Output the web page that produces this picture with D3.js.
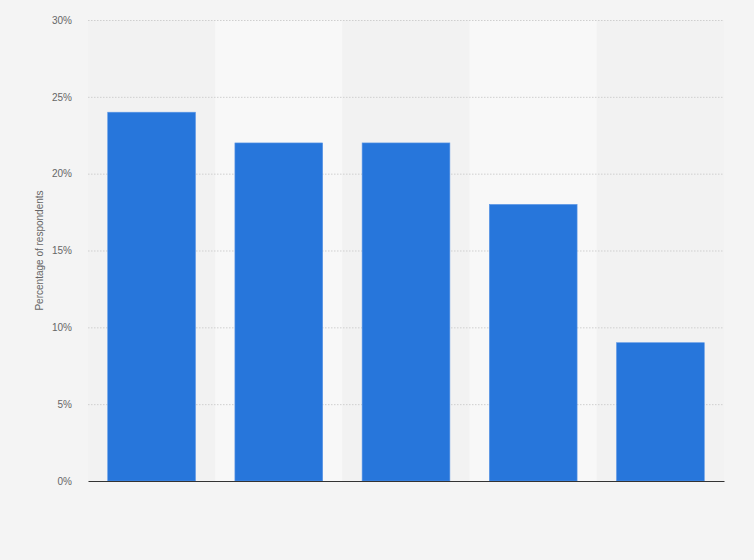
<!DOCTYPE html>
<html>
<head>
<meta charset="utf-8">
<script src="https://cdn.jsdelivr.net/npm/d3@7"></script>
<style>
  html, body { margin: 0; padding: 0; background: #f4f4f4; }
  svg { display: block; font-family: "Liberation Sans", Arial, sans-serif; }
</style>
</head>
<body>
<svg id="chart"></svg>
<script>
// data (category names are not shown in it)
var categories = ["Group 1", "Group 2", "Group 3", "Group 4", "Group 5"];
var values = [24, 22, 22, 18, 9];
var yTicks = [0, 5, 10, 15, 20, 25, 30];

var screen = {width: 754, height: 560};
var margins = {left: 88, right: 30, top: 20, bottom: 79};

var graph = {
    width: screen.width - margins.left - margins.right,
    height: screen.height - margins.top - margins.bottom
};

var svg = d3.select("#chart")
    .attr("width", screen.width)
    .attr("height", screen.height);

svg.append("rect")
    .attr("width", screen.width)
    .attr("height", screen.height)
    .attr("fill", "#f4f4f4");

var target = svg.append("g")
    .attr("transform", "translate(" + margins.left + "," + margins.top + ")");

var xScale = d3.scaleBand()
    .domain(categories)
    .range([0, graph.width])
    .paddingInner(0.31)
    .paddingOuter(0.155);

var bandScale = d3.scaleBand()
    .domain(categories)
    .range([0, graph.width]);

var yScale = d3.scaleLinear()
    .domain([0, 30])
    .range([graph.height, 0]);

// alternating column shading
target.selectAll(".band")
    .data(categories)
    .enter()
    .append("rect")
    .attr("class", "band")
    .attr("x", function(d) { return bandScale(d); })
    .attr("y", 0)
    .attr("width", bandScale.bandwidth())
    .attr("height", graph.height)
    .attr("fill", function(d, i) { return i % 2 == 1 ? "#f8f8f8" : "#f2f2f2"; });

// grid lines
target.append("g")
    .attr("class", "grid")
    .call(d3.axisLeft(yScale)
        .tickValues(yTicks.slice(1))
        .tickSize(-graph.width)
        .tickFormat(""))
    .call(function(g) {
        g.select(".domain").remove();
        g.selectAll("line")
            .attr("stroke", "#cfcfcf")
            .attr("stroke-dasharray", "1.5,1.5");
    });

// tick labels
target.append("g")
    .call(d3.axisLeft(yScale)
        .tickValues(yTicks)
        .tickSize(0)
        .tickPadding(16)
        .tickFormat(function(d) { return d + "%"; }))
    .call(function(g) {
        g.select(".domain").remove();
        g.selectAll("text")
            .attr("fill", "#666")
            .style("font-size", "10px");
    });

// bars
target.selectAll(".bar")
    .data(values)
    .enter()
    .append("rect")
    .attr("class", "bar")
    .attr("x", function(d, i) { return xScale(categories[i]); })
    .attr("y", function(d) { return yScale(d); })
    .attr("width", xScale.bandwidth())
    .attr("height", function(d) { return graph.height - yScale(d); })
    .attr("fill", "#2776db")
    .attr("stroke", "#5d97e6")
    .attr("stroke-width", 0.6);

// baseline
target.append("g")
    .attr("transform", "translate(0," + graph.height + ")")
    .call(d3.axisBottom(xScale).tickSize(0).tickFormat(""))
    .call(function(g) {
        g.select(".domain")
            .attr("stroke", "#333")
            .attr("stroke-width", 1.2);
    });

// y label
svg.append("text")
    .attr("transform", "translate(43," + (margins.top + graph.height / 2) + ") rotate(-90)")
    .attr("text-anchor", "middle")
    .attr("fill", "#666")
    .style("font-size", "10px")
    .text("Percentage of respondents");
</script>
</body>
</html>
